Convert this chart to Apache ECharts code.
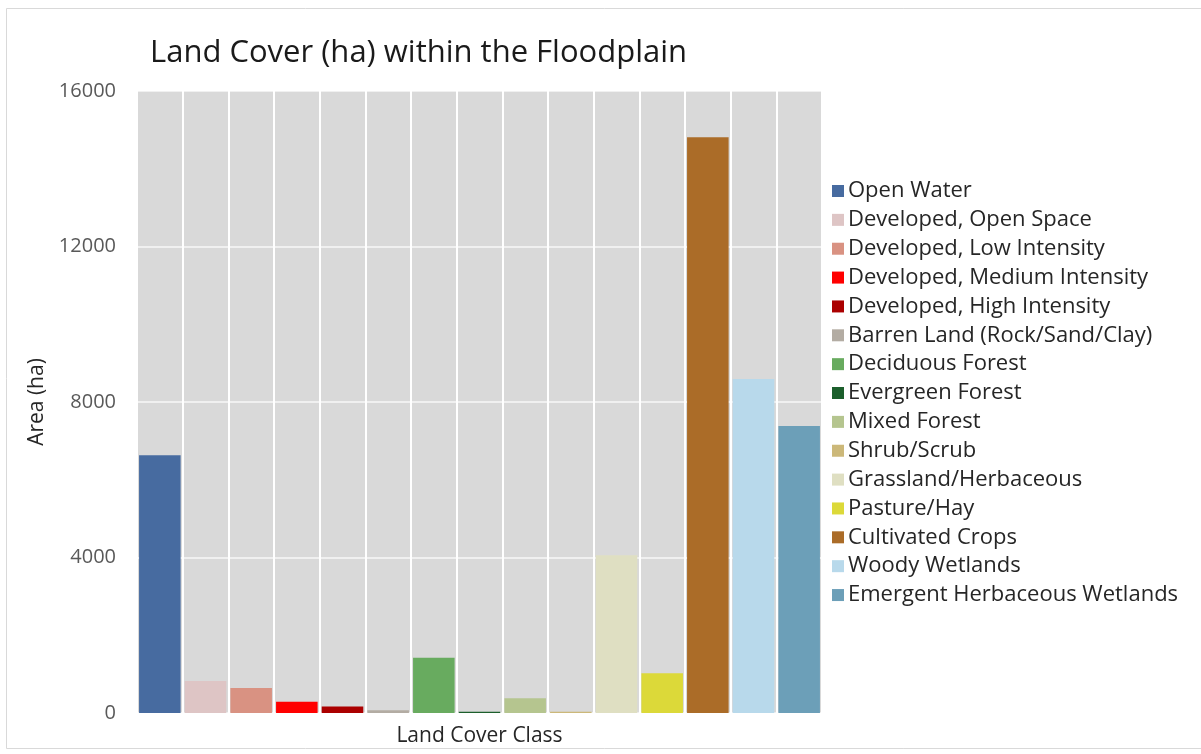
<!DOCTYPE html>
<html>
<head>
<meta charset="utf-8">
<title>Land Cover (ha) within the Floodplain</title>
<script src="https://cdn.jsdelivr.net/npm/echarts@6/dist/echarts.min.js"></script>
<style>
  html, body { margin: 0; padding: 0; background: #ffffff; }
  #chart { width: 1201px; height: 754px; }
</style>
</head>
<body>
<div id="chart"></div>
<script>
// Land cover classes (NLCD) inside the floodplain, area in hectares
const categories = [
  'Open Water',
  'Developed, Open Space',
  'Developed, Low Intensity',
  'Developed, Medium Intensity',
  'Developed, High Intensity',
  'Barren Land (Rock/Sand/Clay)',
  'Deciduous Forest',
  'Evergreen Forest',
  'Mixed Forest',
  'Shrub/Scrub',
  'Grassland/Herbaceous',
  'Pasture/Hay',
  'Cultivated Crops',
  'Woody Wetlands',
  'Emergent Herbaceous Wetlands'
];
const areaHa = [6630, 820, 640, 290, 165, 70, 1420, 35, 380, 30, 4060, 1020, 14810, 8590, 7380];
const classColors = [
  '#476ba0', '#dec5c5', '#d99282', '#ff0000', '#ab0000',
  '#b3aca3', '#68ab5f', '#1c5f2c', '#b5c58f', '#ccb879',
  '#dfdfc2', '#dcd939', '#ab6c28', '#b8d9eb', '#6c9fb8'
];
const yTicks = [0, 4000, 8000, 12000, 16000];

const FONT = '"Open Sans", Lato, sans-serif';

// One stacked series per class so every class gets its own legend entry
const series = categories.map((name, i) => ({
  name: name,
  type: 'bar',
  stack: 'area',
  barCategoryGap: '9%',
  itemStyle: { color: classColors[i] },
  data: categories.map((_, j) => (j === i ? areaHa[i] : '-'))
}));

const chart = echarts.init(document.getElementById('chart'), null, { renderer: 'canvas' });
chart.setOption({
  animation: false,
  backgroundColor: '#ffffff',
  color: classColors,
  title: {
    text: 'Land Cover (ha) within the Floodplain',
    left: 145,
    top: 33,
    textStyle: { fontFamily: FONT, fontSize: 31, fontWeight: 'normal', color: '#1a1a1a' }
  },
  graphic: [{
    type: 'rect',
    shape: { x: 6.5, y: 8.5, width: 1200, height: 740 },
    style: { fill: 'none', stroke: '#d9d9d9', lineWidth: 1 },
    silent: true,
    z: -10
  }],
  legend: {
    orient: 'vertical',
    left: 827,
    top: 174,
    icon: 'rect',
    itemWidth: 12,
    itemHeight: 12,
    itemGap: 4.86,
    data: categories,
    textStyle: { fontFamily: FONT, fontSize: 22, color: '#262626', lineHeight: 24, padding: [0, 0, 0, -1] }
  },
  grid: {
    left: 137,
    right: 379,
    top: 91,
    bottom: 41,
    outerBoundsMode: 'none',
    containLabel: false,
    show: true,
    backgroundColor: '#d9d9d9',
    borderWidth: 0
  },
  xAxis: {
    type: 'category',
    data: categories,
    name: 'Land Cover Class',
    nameLocation: 'middle',
    nameGap: 13,
    nameTextStyle: { fontFamily: FONT, fontSize: 21, color: '#262626' },
    axisLine: { show: false },
    axisTick: { show: false },
    axisLabel: { show: false },
    splitLine: { show: true, interval: 0, lineStyle: { color: '#ffffff', width: 2 } }
  },
  yAxis: {
    type: 'value',
    min: 0,
    max: 16000,
    interval: 4000,
    name: 'Area (ha)',
    nameLocation: 'middle',
    nameGap: 81,
    nameTextStyle: { fontFamily: FONT, fontSize: 21, color: '#262626' },
    axisLine: { show: false },
    axisTick: { show: false },
    axisLabel: {
      margin: 21,
      fontFamily: FONT,
      fontSize: 20,
      color: '#595959',
      formatter: (v) => (yTicks.includes(v) ? String(v) : '')
    },
    splitLine: { show: true, lineStyle: { color: '#ffffff', width: 1.5, opacity: 0.8 } }
  },
  series: series
});
</script>
</body>
</html>
